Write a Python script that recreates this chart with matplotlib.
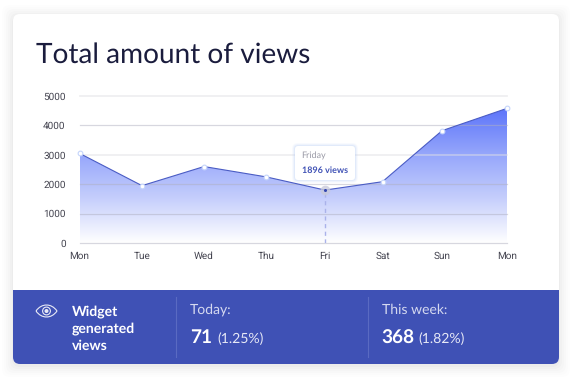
import numpy as np
import matplotlib
matplotlib.use("Agg")
import matplotlib.pyplot as plt
from matplotlib.patches import FancyBboxPatch, Rectangle, PathPatch, Circle, Polygon
from matplotlib.path import Path
from matplotlib.colors import LinearSegmentedColormap

plt.rcParams["text.hinting"] = "no_hinting"
plt.rcParams["text.hinting_factor"] = 1

W, H = 575, 381

# data
days = ["Mon", "Tue", "Wed", "Thu", "Fri", "Sat", "Sun", "Mon"]
day_x = [0, 62.5, 124.5, 186.5, 245.5, 303, 362.5, 427.5]  # the days are not evenly spaced
views = [3050, 1950, 2600, 2250, 1800, 2085, 3820, 4580]
y_ticks = [0, 1000, 2000, 3000, 4000, 5000]

title = "Total amount of views"
tip_day = "Friday"
tip_views = "1896 views"
widget_lines = ["Widget", "generated", "views"]
today_label, today_num, today_pct = "Today:", "71", "(1.25%)"
week_label, week_num, week_pct = "This week:", "368", "(1.82%)"

BLUE = "#3f51b5"
DARK = "#1a1c3d"
SANS = "Lato"

fig = plt.figure(figsize=(W / 100, H / 100), dpi=100)

# background layer in pixel coordinates
bg = fig.add_axes([0, 0, 1, 1])
bg.set_xlim(0, W)
bg.set_ylim(H, 0)
bg.axis("off")

# soft shadow round the card
for grow, a in zip([11, 9, 7, 5, 3, 1], [0.006, 0.008, 0.01, 0.012, 0.015, 0.02]):
    bg.add_patch(FancyBboxPatch((13 - grow + 6, 14 - grow + 8), 546 + 2 * grow - 12, 350 + 2 * grow - 12,
                                boxstyle="round,pad=6,rounding_size=8", fc="black", ec="none", alpha=a))

card = FancyBboxPatch((19, 20), 534, 338, boxstyle="round,pad=6,rounding_size=7", fc="white", ec="none")
bg.add_patch(card)
band = Rectangle((13, 290), 546, 75, fc=BLUE, ec="none")
bg.add_patch(band)
band.set_clip_path(card)

bg.text(35.5, 55, title, fontsize=19.9, color=DARK, family=SANS, va="center", ha="left")

# footer
for i, line in enumerate(widget_lines):
    bg.text(72, 312 + i * 16.7, line, color="white", fontsize=10.4, fontweight="bold", family=SANS, va="center")
for x in [175.5, 367.5]:
    bg.plot([x, x], [297, 357], color="#5a6ac2", lw=0.8)

bg.text(190, 310, today_label, color="#d5d9f0", fontsize=9.8, family=SANS, va="center")
bg.text(190, 338, today_num, color="white", fontsize=14, fontweight="bold", family=SANS, va="center")
bg.text(217, 339, today_pct, color="#e6e8f6", fontsize=10.2, family=SANS, va="center")
bg.text(382, 310, week_label, color="#d5d9f0", fontsize=9.8, family=SANS, va="center")
bg.text(381.5, 338, week_num, color="white", fontsize=14, fontweight="bold", family=SANS, va="center")
bg.text(418.5, 339, week_pct, color="#e6e8f6", fontsize=10.2, family=SANS, va="center")

# eye icon
cx, cy = 46.5, 311
lens = Path([(cx - 10.5, cy), (cx - 5, cy - 8), (cx + 5, cy - 8), (cx + 10.5, cy),
             (cx + 5, cy + 8), (cx - 5, cy + 8), (cx - 10.5, cy)],
            [Path.MOVETO, Path.CURVE4, Path.CURVE4, Path.CURVE4, Path.CURVE4, Path.CURVE4, Path.CURVE4])
bg.add_patch(PathPatch(lens, fc="none", ec="#e8eaf6", lw=0.8))
bg.add_patch(Circle((cx, cy), 3.9, fc="none", ec="#e8eaf6", lw=0.8))
bg.add_patch(Circle((cx, cy), 2.0, fc="#e8eaf6", ec="none"))

# chart
left, right, top, bottom = 79.5, 507, 96, 243
ax = fig.add_axes([left / W, 1 - bottom / H, (right - left) / W, (bottom - top) / H])
ax.patch.set_alpha(0)
ax.set_xlim(day_x[0], day_x[-1])
ax.set_ylim(0, 5000)
for s in ax.spines.values():
    s.set_visible(False)

cmap = LinearSegmentedColormap.from_list("fill", ["#ffffff", "#c5cefc", "#94a5fb", "#5c74fa"])
grad = np.linspace(0, 1, 256).reshape(-1, 1)
im = ax.imshow(grad, origin="lower", aspect="auto", cmap=cmap, zorder=1,
               extent=[day_x[0], day_x[-1], 0, max(views)])
ax.set_xlim(day_x[0], day_x[-1])
ax.set_ylim(0, 5000)
clip = Polygon(list(zip(day_x, views)) + [(day_x[-1], 0), (day_x[0], 0)], closed=True,
               transform=ax.transData, fc="none", ec="none")
ax.add_patch(clip)
im.set_clip_path(clip)

for v in y_ticks:
    lw, col = 0.9, "#b0b0c0"
    if v in (3000, 5000):
        lw, col = 1.3, "#e0e0e4"
    ax.axhline(v, color=col, lw=lw, alpha=0.5, zorder=2, clip_on=False)

ax.plot(day_x, views, color="#4a5cc4", lw=0.8, zorder=3, clip_on=False)

pts = [i for i in range(len(days)) if i != 4]
ax.plot([day_x[i] for i in pts], [views[i] for i in pts], ls="none", marker="o", ms=3.4,
        mfc="white", mec="#c4d4fb", mew=0.8, zorder=4, clip_on=False)

# Friday marker and dashed drop line
ax.plot([day_x[4], day_x[4]], [0, views[4]], color="#aab2ea", lw=1.0, ls=(0, (3, 2.5)), zorder=3)
ax.plot(day_x[4], views[4], marker="o", ms=7, mfc="#c8cadb", mec="none", alpha=0.8, zorder=4)
ax.plot(day_x[4], views[4], marker="o", ms=2.2, mfc="#3346b0", mec="none", zorder=5)

ax.set_xticks(day_x)
ax.set_xticklabels(days)
ax.set_yticks(y_ticks)
ax.tick_params(length=0, labelsize=7.0, labelcolor="#444450", pad=6)
for t in ax.get_xticklabels() + ax.get_yticklabels():
    t.set_family("Roboto")
ax.tick_params(axis="y", pad=10)

# tooltip, on a layer above the chart
tip = fig.add_axes([0, 0, 1, 1])
tip.set_xlim(0, W)
tip.set_ylim(H, 0)
tip.axis("off")
for grow, a in zip([3, 2, 1], [0.08, 0.12, 0.18]):
    tip.add_patch(FancyBboxPatch((298, 149), 54, 28, boxstyle=f"round,pad={3 + grow},rounding_size={3 + grow}",
                                 fc="#a9c4f5", ec="none", alpha=a))
tip.add_patch(FancyBboxPatch((298, 149), 54, 28, boxstyle="round,pad=3,rounding_size=3", fc="white", ec="none"))
tip.text(301.5, 156, tip_day, fontsize=6.8, color="#9a9aa6", family=SANS, va="center")
tip.text(301.5, 170, tip_views, fontsize=6.6, color=BLUE, fontweight="bold", family=SANS, va="center")

fig.savefig("out.png", dpi=100, facecolor="white")
